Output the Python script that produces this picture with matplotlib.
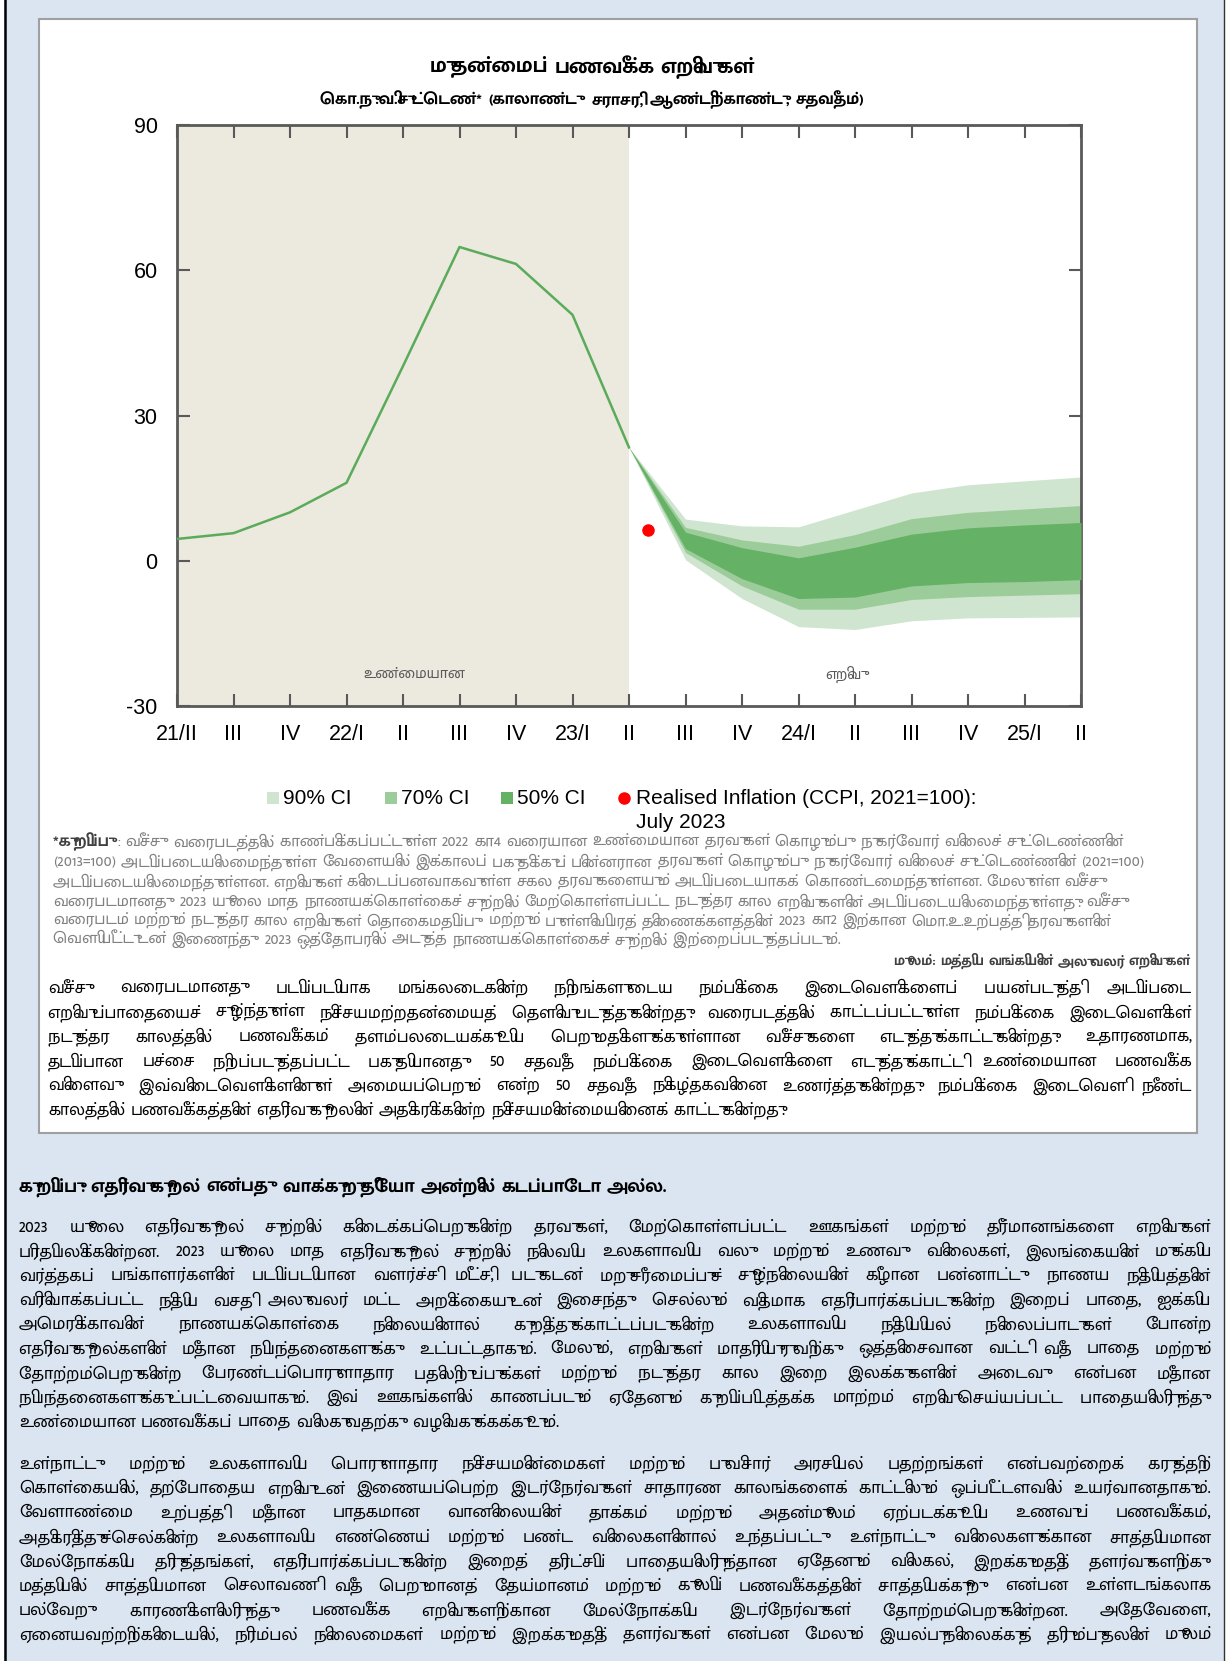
import matplotlib
matplotlib.use('Agg')
import matplotlib.pyplot as plt
from matplotlib import font_manager
from matplotlib.font_manager import FontProperties, findfont
from matplotlib.ft2font import FT2Font
from matplotlib.patches import Rectangle

W, H = 1230, 1661

# ---- chart data ----
quarter_labels = ['21/II', 'III', 'IV', '22/I', 'II', 'III', 'IV', '23/I', 'II',
                  'III', 'IV', '24/I', 'II', 'III', 'IV', '25/I', 'II']
actual_x = [0, 1, 2, 3, 4, 5, 6, 7, 8]
actual_vals = [4.5, 5.7, 10.0, 16.1, 40.2, 64.8, 61.3, 50.8, 23.4]

fan_x = [8, 9, 10, 11, 12, 13, 14, 15, 16]
ci90_hi = [23.4, 8.6, 7.2, 7.0, 10.5, 14.0, 15.7, 16.5, 17.3]
ci70_hi = [23.4, 6.9, 4.3, 3.0, 5.4, 8.7, 10.0, 10.7, 11.4]
ci50_hi = [23.4, 5.9, 2.7, 0.6, 2.8, 5.5, 6.8, 7.4, 7.9]
ci50_lo = [23.4, 2.5, -3.7, -7.8, -7.5, -5.2, -4.5, -4.3, -3.9]
ci70_lo = [23.4, 1.7, -5.2, -10.0, -10.0, -8.0, -7.4, -7.1, -6.8]
ci90_lo = [23.4, 0.2, -7.8, -13.6, -14.2, -12.4, -11.8, -11.7, -11.6]

realised_x = [8.33]
realised_y = [6.3]

y_ticks = [-30, 0, 30, 60, 90]

# ---- texts ----
title = 'முதன்மைப் பணவீக்க எறிவுகள்'
subtitle = 'கொ.நு.வி.சுட்டெண்* (காலாண்டு சராசரி, ஆண்டிற்காண்டு, சதவீதம்)'
label_actual = 'உண்மையான'
label_proj = 'எறிவு'
legend_labels = ['90% CI', '70% CI', '50% CI', 'Realised Inflation (CCPI, 2021=100):\nJuly 2023']

note_head = '*குறிப்பு'
note_lines = [
    ': வீச்சு வரைபடத்தில் காண்பிக்கப்பட்டுள்ள 2022 கா4 வரையான உண்மையான தரவுகள் கொழும்பு நுகர்வோர் விலைச் சுட்டெண்ணின்',
    '(2013=100) அடிப்படையிலமைந்துள்ள வேளையில் இக்காலப் பகுதிக்குப் பின்னரான தரவுகள் கொழும்பு நுகர்வோர் விலைச் சுட்டெண்ணின் (2021=100)',
    'அடிப்படையிலமைந்துள்ளன. எறிவுகள் கிடைப்பனவாகவுள்ள சகல தரவுகளையும் அடிப்படையாகக் கொண்டமைந்துள்ளன. மேலுள்ள வீச்சு',
    'வரைபடமானது 2023 யூலை மாத நாணயக்கொள்கைச் சுற்றில் மேற்கொள்ளப்பட்ட நடுத்தர கால எறிவுகளின் அடிப்படையிலமைந்துள்ளது. வீச்சு',
    'வரைபடம் மற்றும் நடுத்தர கால எறிவுகள் தொகைமதிப்பு மற்றும் புள்ளிவிபரத் திணைக்களத்தின் 2023 கா2 இற்கான மொ.உ.உற்பத்தி தரவுகளின்',
    'வெளியீட்டுடன் இணைந்து 2023 ஒத்தோபரில் அடுத்த நாணயக்கொள்கைச் சுற்றில் இற்றைப்படுத்தப்படும்.',
]
source_text = 'மூலம்: மத்திய வங்கியின் அலுவலர் எறிவுகள்'

italic_lines = [
    'வீச்சு வரைபடமானது படிப்படியாக மங்கலடைகின்ற நிறங்களுடைய நம்பிக்கை இடைவெளிகளைப் பயன்படுத்தி அடிப்படை',
    'எறிவுப்பாதையைச் சூழ்ந்துள்ள நிச்சயமற்றதன்மையத் தெளிவுபடுத்துகின்றது. வரைபடத்தில் காட்டப்பட்டுள்ள நம்பிக்கை இடைவெளிகள்',
    'நடுத்தர காலத்தில் பணவீக்கம் தளம்பலடையக்கூடிய பெறுமதிகளுக்குள்ளான வீச்சுகளை எடுத்துக்காட்டுகின்றது. உதாரணமாக,',
    'தடிப்பான பச்சை நிறப்படுத்தப்பட்ட பகுதியானது 50 சதவீத நம்பிக்கை இடைவெளிகளை எடுத்துக்காட்டி உண்மையான பணவீக்க',
    'விளைவு இவ்விடைவெளிகளினுள் அமையப்பெறும் என்ற 50 சதவீத நிகழ்தகவினை உணர்த்துகின்றது. நம்பிக்கை இடைவெளி நீண்ட',
    'காலத்தில் பணவீக்கத்தின் எதிர்வுகூறலின் அதிகரிக்கின்ற நிச்சயமின்மையினைக் காட்டுகின்றது.',
]

heading = 'குறிப்பு: எதிர்வுகூறல் என்பது வாக்குறுதியோ அன்றில் கடப்பாடோ அல்ல.'

para1 = [
    '2023 யூலை எதிர்வுகூறல் சுற்றில் கிடைக்கப்பெறுகின்ற தரவுகள், மேற்கொள்ளப்பட்ட ஊகங்கள் மற்றும் தீர்மானங்களை எறிவுகள்',
    'பிரதிபலிக்கின்றன. 2023 யூலை மாத எதிர்வுகூறல் சுற்றில் நிலவிய உலகளாவிய வலு மற்றும் உணவு விலைகள், இலங்கையின் முக்கிய',
    'வர்த்தகப் பங்காளர்களின் படிப்படியான வளர்ச்சி மீட்சி, படுகடன் மறுசீரமைப்புச் சூழ்நிலையின் கீழான பன்னாட்டு நாணய நிதியத்தின்',
    'விரிவாக்கப்பட்ட நிதிய வசதி அலுவலர் மட்ட அறிக்கையுடன் இசைந்து செல்லும் விதமாக எதிர்பார்க்கப்படுகின்ற இறைப் பாதை, ஐக்கிய',
    'அமெரிக்காவின் நாணயக்கொள்கை நிலையினால் குறித்துக்காட்டப்படுகின்ற உலகளாவிய நிதியியல் நிலைப்பாடுகள் போன்ற',
    'எதிர்வுகூறல்களின் மீதான நிபந்தனைகளுக்கு உட்பட்டதாகும். மேலும், எறிவுகள் மாதிரியுருவிற்கு ஒத்திசைவான வட்டி வீத பாதை மற்றும்',
    'தோற்றம்பெறுகின்ற பேரண்டப்பொருளாதார பதிலிறுப்புக்கள் மற்றும் நடுத்தர கால இறை இலக்குகளின் அடைவு என்பன மீதான',
    'நிபந்தனைகளுக்குட்பட்டவையாகும். இவ் ஊகங்களில் காணப்படும் ஏதேனும் குறிப்பிடத்தக்க மாற்றம் எறிவுசெய்யப்பட்ட பாதையிலிருந்து',
    'உண்மையான பணவீக்கப் பாதை விலகுவதற்கு வழிவகுக்கக்கூடும்.',
]

para2 = [
    'உள்நாட்டு மற்றும் உலகளாவிய பொருளாதார நிச்சயமின்மைகள் மற்றும் புவிசார் அரசியல் பதற்றங்கள் என்பவற்றைக் கருத்திற்',
    'கொள்கையில், தற்போதைய எறிவுடன் இணையப்பெற்ற இடர்நேர்வுகள் சாதாரண காலங்களைக் காட்டிலும் ஒப்பீட்டளவில் உயர்வானதாகும்.',
    'வேளாண்மை உற்பத்தி மீதான பாதகமான வானிலையின் தாக்கம் மற்றும் அதன்மூலம் ஏற்படக்கூடிய உணவுப் பணவீக்கம்,',
    'அதிகரித்துச்செல்கின்ற உலகளாவிய எண்ணெய் மற்றும் பண்ட விலைகளினால் உந்தப்பட்டு உள்நாட்டு விலைகளுக்கான சாத்தியமான',
    'மேல்நோக்கிய திருத்தங்கள், எதிர்பார்க்கப்படுகின்ற இறைத் திரட்சிப் பாதையிலிருந்தான ஏதேனும் விலகல், இறக்குமதித் தளர்வுகளிற்கு',
    'மத்தியில் சாத்தியமான செலாவணி வீத பெறுமானத் தேய்மானம் மற்றும் கூலிப் பணவீக்கத்தின் சாத்தியக்கூறு என்பன உள்ளடங்கலாக',
    'பல்வேறு காரணிகளிலிருந்து பணவீக்க எறிவுகளிற்கான மேல்நோக்கிய இடர்நேர்வுகள் தோற்றம்பெறுகின்றன. அதேவேளை,',
    'ஏனையவற்றிற்கிடையில், நிரம்பல் நிலைமைகள் மற்றும் இறக்குமதித் தளர்வுகள் என்பன மேலும் இயல்புநிலைக்குத் திரும்புதலின் மூலம்',
]

# colours
c90, c70, c50 = '#cfe5cf', '#9ccc9a', '#65b165'
line_col = '#5aab5a'
beige = '#ece9df'
page_bg = '#dbe5f1'
axis_col = '#595959'

# Tamil vowel signs that are written before the consonant.
# matplotlib does no text shaping, so move them in front by hand.
PREFIX = {'\u0BC6': ('\u0BC6', ''), '\u0BC7': ('\u0BC7', ''), '\u0BC8': ('\u0BC8', ''),
          '\u0BCA': ('\u0BC6', '\u0BBE'), '\u0BCB': ('\u0BC7', '\u0BBE'),
          '\u0BCC': ('\u0BC6', '\u0BD7')}
# u / uu signs have no advance without shaping, give them some room
U_SIGNS = ('\u0BC1', '\u0BC2')


def tv(s):
    out = []
    for ch in s:
        if ch in PREFIX and out and '\u0B95' <= out[-1] <= '\u0BB9':
            pre, post = PREFIX[ch]
            cons = out.pop()
            out.append(pre)
            out.append(cons)
            if post:
                out.append(post)
        elif ch in U_SIGNS:
            out.append(ch)
            out.append('\u2009')
        else:
            out.append(ch)
    return ''.join(out).rstrip('\u2009')


# pick a Tamil font that is installed
installed = {f.name for f in font_manager.fontManager.ttflist}
tamil = None
for name in ['Mukta Malar', 'Noto Sans Tamil', 'Noto Sans Tamil UI', 'Pavanam']:
    if name in installed:
        tamil = name
        break
latin = ['Liberation Sans', 'DejaVu Sans']
plt.rcParams['font.family'] = ([tamil] if tamil else []) + latin


def u_overflow():
    # how far the u-sign ink sticks out past its advance (in em)
    try:
        ft = FT2Font(findfont(FontProperties(family=tamil)))
        ft.set_size(100, 72)
        g = ft.load_char(0x0BC1)
        ov = (g.horiBearingX + g.width - g.horiAdvance) / 64 / 100
    except Exception:
        ov = 0.3
    return max(ov, 0.25)


U_EXTRA = u_overflow() if tamil else 0.0


def place_words(ax, renderer, words, y, size, opts):
    arts = [ax.text(0, y, w, ha='left', va='center', fontsize=size, **opts) for w in words]
    widths = [a.get_window_extent(renderer).width for a in arts]
    # words ending in a u-sign need room for the mark
    px = size * 100 / 72
    for k, w in enumerate(words):
        if w and w.rstrip('.,:;)')[-1:] in U_SIGNS:
            widths[k] += U_EXTRA * px
    return arts, widths


def draw_line(ax, renderer, line, x, y, ha='left', space=0.3, **kw):
    # one word per Text so the spaces are not swallowed by the u-signs
    size = kw.pop('fontsize', 12)
    words = [tv(w) for w in line.split()]
    arts, widths = place_words(ax, renderer, words, y, size, kw)
    gap = space * size * 100 / 72
    total = sum(widths) + gap * (len(words) - 1)
    if ha == 'center':
        x0 = x - total / 2
    elif ha == 'right':
        x0 = x - total
    else:
        x0 = x
    xx = x0
    for a, w in zip(arts, widths):
        a.set_x(xx)
        xx += w + gap
    return total


def draw_justified(ax, renderer, lines, x0, x1, y0, step, last_left=True, **kw):
    size0 = kw.pop('fontsize', 12)
    for i, line in enumerate(lines):
        y = y0 + i * step
        if (last_left and i == len(lines) - 1) or len(line.split()) < 2:
            draw_line(ax, renderer, line, x0, y, fontsize=size0, **kw)
            continue
        words = [tv(w) for w in line.split()]
        size = size0
        for _ in range(4):
            arts, widths = place_words(ax, renderer, words, y, size, kw)
            gap = (x1 - x0 - sum(widths)) / (len(words) - 1)
            if gap >= 3:
                break
            # too wide, shrink this line a bit
            for a in arts:
                a.remove()
            size = size * (x1 - x0 - 4 * (len(words) - 1)) / sum(widths)
        xx = x0
        for a, w in zip(arts, widths):
            a.set_x(xx)
            xx += w + gap


fig = plt.figure(figsize=(W / 100, H / 100), dpi=100)
fig.patch.set_facecolor('white')

# page layer in pixel coordinates
page = fig.add_axes([0, 0, 1, 1])
page.set_xlim(0, W)
page.set_ylim(H, 0)
page.axis('off')
page.add_patch(Rectangle((4, 0), 1220, H, facecolor=page_bg, edgecolor='none'))
page.plot([5, 5], [0, H], color='black', lw=1.8)
page.plot([1224, 1224], [0, H], color='#333333', lw=1.0)
page.add_patch(Rectangle((39, 19), 1158, 1114, facecolor='white', edgecolor='#a0a0a0', lw=1.5))

# ---- chart ----
ax = fig.add_axes([177 / W, 1 - 706 / H, (1081 - 177) / W, (706 - 125) / H])
ax.set_facecolor('white')
ax.axvspan(0, 8, color=beige, lw=0, zorder=0)
ax.fill_between(fan_x, ci90_lo, ci90_hi, color=c90, lw=0, zorder=1)
ax.fill_between(fan_x, ci70_lo, ci70_hi, color=c70, lw=0, zorder=2)
ax.fill_between(fan_x, ci50_lo, ci50_hi, color=c50, lw=0, zorder=3)
ax.plot(actual_x, actual_vals, color=line_col, lw=1.8, zorder=4)
ax.plot(realised_x, realised_y, 'o', color='#ff0000', ms=8, zorder=5)

ax.set_xlim(0, 16)
ax.set_ylim(-30, 90)
ax.set_xticks(range(len(quarter_labels)))
ax.set_xticklabels(quarter_labels)
ax.set_yticks(y_ticks)
ax.set_yticklabels([str(v) for v in y_ticks])
ax.tick_params(axis='both', direction='in', length=9, width=1.5, color=axis_col,
               top=True, right=True, labelsize=15.5, labelcolor='black')
ax.tick_params(axis='x', pad=13)
ax.tick_params(axis='y', pad=14)
for s in ax.spines.values():
    s.set_color(axis_col)
    s.set_linewidth(2)
for t in ax.get_xticklabels() + ax.get_yticklabels():
    t.set_family(latin)

ax.text(4.2, -23.4, tv(label_actual), ha='center', va='center', fontsize=11.5, color=axis_col)
ax.text(11.8, -23.4, tv(label_proj), ha='center', va='center', fontsize=11.5, color=axis_col)

renderer = fig.canvas.get_renderer()

# titles
draw_line(page, renderer, title, 592, 67, ha='center', fontsize=16, fontweight='bold')
draw_line(page, renderer, subtitle, 592, 100, ha='center', fontsize=12.5, fontweight='bold',
          space=0.36)

# legend (drawn by hand so the last label wraps like the original)
leg_cols = [c90, c70, c50]
leg_x = [273, 391, 507]
for lx, col, lab in zip(leg_x, leg_cols, legend_labels[:3]):
    page.add_patch(Rectangle((lx - 6, 792), 12, 12, facecolor=col, edgecolor='none'))
    page.text(lx + 10, 798, lab, ha='left', va='center', fontsize=15, family=latin)
page.plot([624], [798], 'o', color='#ff0000', ms=8)
page.text(636, 798, legend_labels[3].split('\n')[0], ha='left', va='center', fontsize=15, family=latin)
page.text(636, 823, legend_labels[3].split('\n')[1], ha='left', va='center', fontsize=15, family=latin)

# notes under the chart
note_y = [842, 862, 882, 902, 921, 940]
note_size = 12.2
h = page.text(53, note_y[0], tv(note_head), ha='left', va='center', fontsize=note_size,
              fontweight='bold', color='#404040')
hw = h.get_window_extent(renderer).width + U_EXTRA * note_size * 100 / 72
draw_line(page, renderer, note_lines[0], 53 + hw, note_y[0], fontsize=note_size, color='#808080')
for yy, ln in zip(note_y[1:], note_lines[1:]):
    draw_line(page, renderer, ln, 53, yy, fontsize=note_size, color='#808080')

draw_line(page, renderer, source_text, 1190, 961, ha='right', fontsize=10.5,
          fontweight='bold', color='#404040')

draw_justified(page, renderer, italic_lines, 48, 1192, 988, 24.4,
               fontsize=13, color='black')

# text below the box
draw_line(page, renderer, heading, 19, 1187, fontsize=14, fontweight='bold')
draw_justified(page, renderer, para1, 19, 1211, 1227, 24.37, fontsize=13.2, color='black')
draw_justified(page, renderer, para2, 19, 1211, 1464, 24.37, last_left=False,
               fontsize=13.2, color='black')

fig.savefig('out.png', dpi=100, facecolor=fig.get_facecolor())
